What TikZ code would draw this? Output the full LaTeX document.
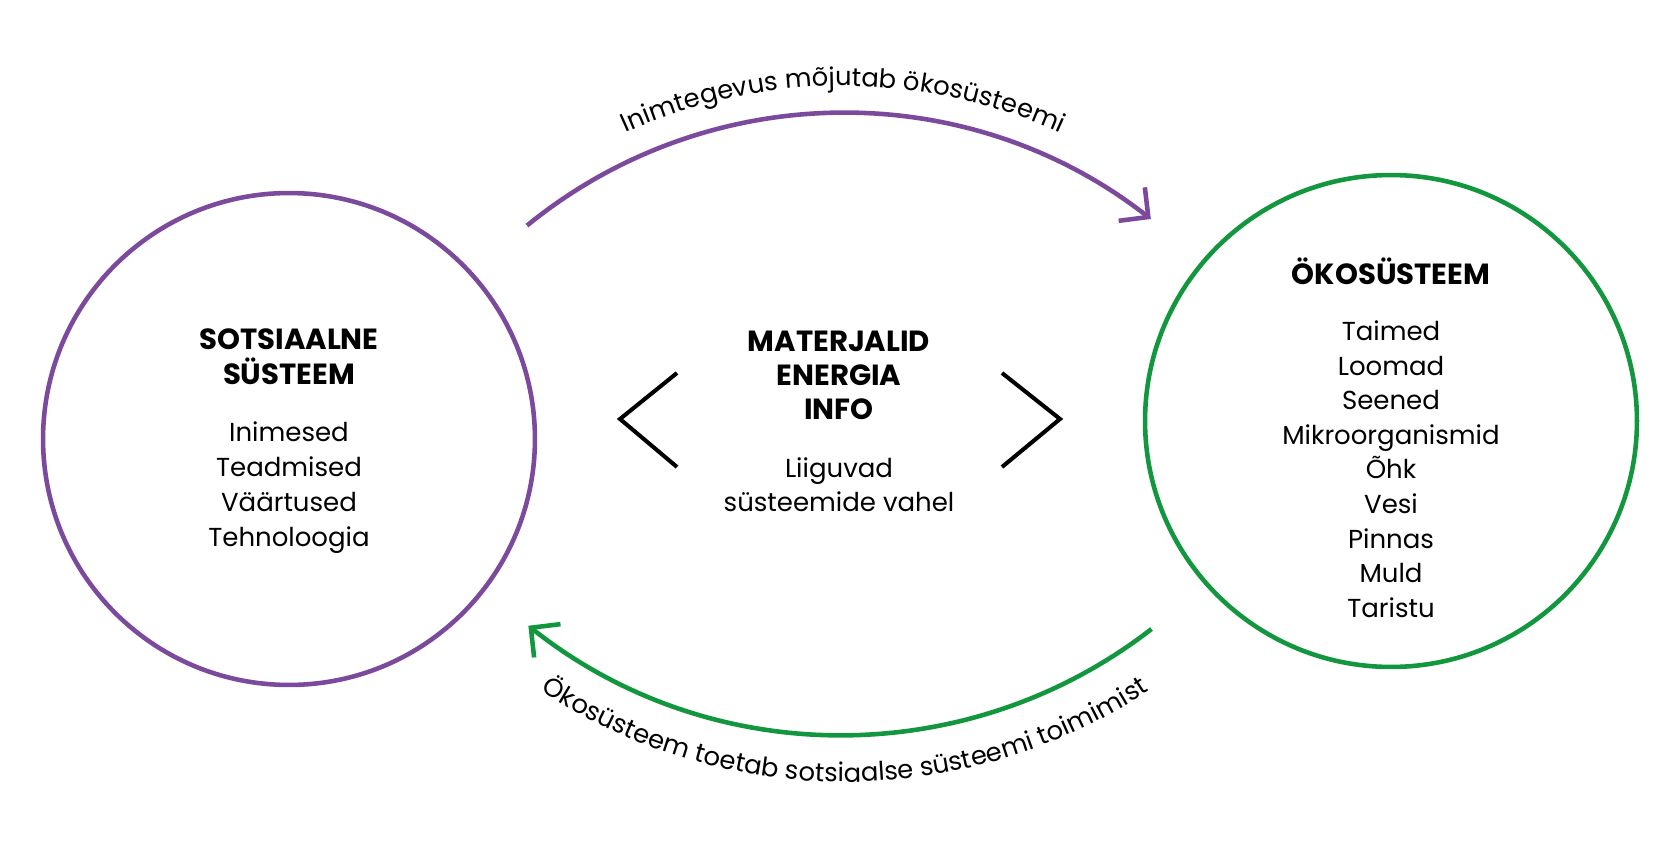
\documentclass[tikz,border=0pt]{standalone}
\usepackage{fontspec}
\setmainfont{Poppins}
\usetikzlibrary{arrows.meta,decorations.text}
\definecolor{socpurple}{RGB}{123,74,157}
\definecolor{ecogreen}{RGB}{18,150,62}
\newcommand\arcfont{\fontsize{14.7}{17}\selectfont}
\tikzset{
  head/.style={font=\fontsize{16.6}{19}\selectfont\bfseries, anchor=base},
  item/.style={font=\fontsize{14.8}{17}\selectfont, anchor=base},
  ring/.style={circle, draw, line width=2.6pt, minimum size=9.84cm, inner sep=0pt},
  flow/.style={line width=2.6pt, -{Straight Barb[length=4.2mm, width=8.5mm]}},
  chev/.style={line width=2.3pt}
}
\begin{document}
\begin{tikzpicture}[x=0.02cm, y=-0.02cm]
\useasboundingbox (0,0) rectangle (1680,847);
\node[ring, socpurple] (soc) at (289,439) {};
\node[ring, ecogreen] (eco) at (1391,421) {};
\node[head] (sochead1) at (289,350) {SOTSIAALNE};
\node[head] (sochead2) at (289,385) {SÜSTEEM};
\foreach \w [count=\i] in {Inimesed,Teadmised,Väärtused,Tehnoloogia}
\node[item] (soc\i) at (289,{442+34.7*(\i-1)}) {\w};
\foreach \w [count=\i] in {MATERJALID,ENERGIA,INFO}
\node[head] (flow\i) at (839,{352+34*(\i-1)}) {\w};
\node[item] (move1) at (839,478) {Liiguvad};
\node[item] (move2) at (839,512) {süsteemide vahel};
\node[head] (ecohead) at (1391,285) {ÖKOSÜSTEEM};
\foreach \w [count=\i] in {Taimed,Loomad,Seened,Mikroorganismid,Õhk,Vesi,Pinnas,Muld,Taristu}
\node[item] (eco\i) at (1391,{341+34.5*(\i-1)}) {\w};
\draw[chev] (677,373) -- (620,419) -- (677,467);
\draw[chev] (1002,373) -- (1060,419) -- (1002,467);
\path (843,613) ++(-129.2:500) coordinate (actstart);
\draw[flow, socpurple] (actstart) arc[start angle=-129.2, end angle=-52, radius=500];
\path (842,230) ++(52.2:505) coordinate (supstart);
\draw[flow, ecogreen] (supstart) arc[start angle=52.2, end angle=128.4, radius=505];
\path (843,613) ++(-135:527) coordinate (acttext);
\path[decorate, decoration={text along path, text align=center,
  text={|\arcfont|Inimtegevus mõjutab ökosüsteemi}}]
  (acttext) arc[start angle=-135, end angle=-45, radius=527];
\path (845,230) ++(140:552) coordinate (suptext);
\path[decorate, decoration={text along path, text align=center,
  text={|\arcfont|Ökosüsteem toetab sotsiaalse süsteemi toimimist}}]
  (suptext) arc[start angle=140, end angle=40, radius=552];
\end{tikzpicture}
\end{document}
